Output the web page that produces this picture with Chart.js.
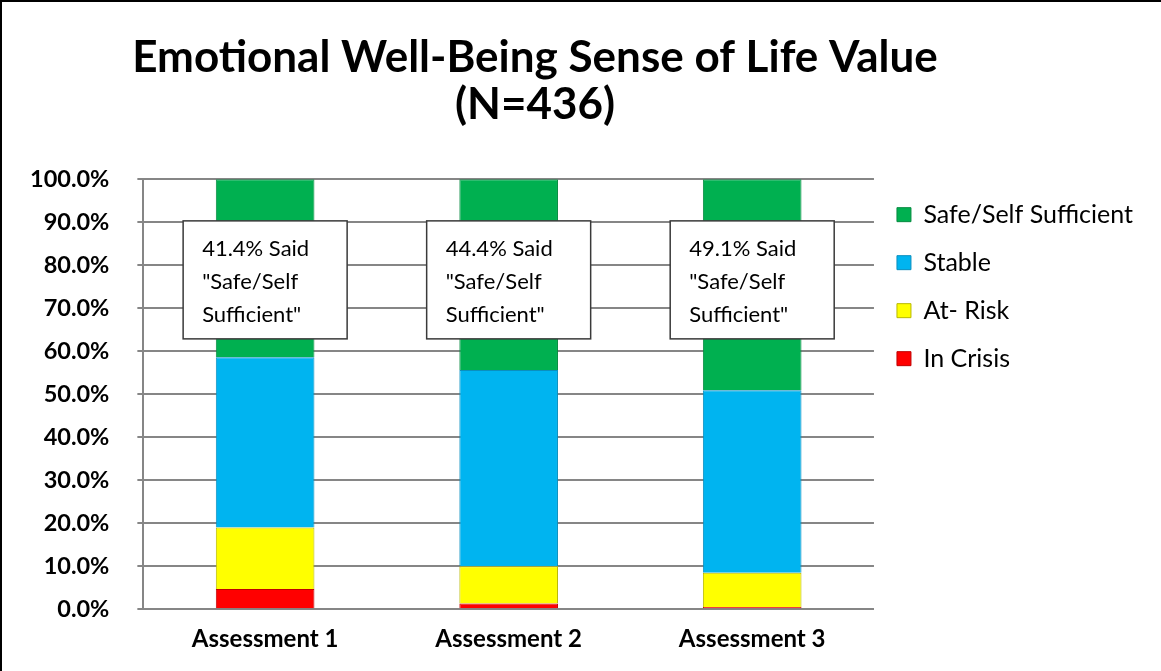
<!DOCTYPE html>
<html>
<head>
<meta charset="utf-8">
<script src="https://cdn.jsdelivr.net/npm/chart.js@4"></script>
<style>
  html, body { margin: 0; padding: 0; background: #fff; }
  #wrap { width: 1161px; height: 671px; box-sizing: border-box; border-left: 2px solid #000; border-top: 2px solid #000; }
  canvas { display: block; }
</style>
</head>
<body>
<div id="wrap"><canvas id="chart1" width="1159" height="669"></canvas></div>
<script>
// data
var categories = ["Assessment 1", "Assessment 2", "Assessment 3"];
var inCrisis = [4.7, 1.3, 0.5];
var atRisk = [14.3, 8.7, 8.0];
var stable = [39.6, 45.6, 42.4];
var safeSelf = [41.4, 44.4, 49.1];
var notes = ['41.4% Said|"Safe/Self|Sufficient"', '44.4% Said|"Safe/Self|Sufficient"', '49.1% Said|"Safe/Self|Sufficient"'];

var FONT = "Lato, 'Open Sans', sans-serif";

// nudge the title so it sits where the original has it
var titleShift = {
    id: 'titleShift',
    afterLayout: function (chart) {
        var t = chart.titleBlock;
        var want = 533;
        var now = (t.left + t.right) / 2;
        t.left += want - now;
        t.right += want - now;
    }
};

// text boxes drawn over each bar
var noteBoxes = {
    id: 'noteBoxes',
    afterDatasetsDraw: function (chart) {
        var ctx = chart.ctx;
        var meta = chart.getDatasetMeta(3);
        var y = chart.scales.y;
        ctx.save();
        ctx.font = '22px ' + FONT;
        ctx.textBaseline = 'middle';
        meta.data.forEach(function (bar, i) {
            var w = 164, h = 118;
            var left = bar.x - w / 2;
            var top = y.getPixelForValue(90.3);
            ctx.fillStyle = '#fff';
            ctx.fillRect(left, top, w, h);
            ctx.strokeStyle = '#3a3a3a';
            ctx.lineWidth = 1.5;
            ctx.strokeRect(left, top, w, h);
            ctx.fillStyle = '#000';
            var lines = notes[i].split('|');
            lines.forEach(function (t, k) {
                ctx.fillText(t, left + 19, top + 28 + k * 33);
            });
        });
        ctx.restore();
    }
};

var ctx = document.getElementById('chart1').getContext('2d');
var chart = new Chart(ctx, {
    type: 'bar',
    data: {
        labels: categories,
        datasets: [
            { label: "In Crisis", data: inCrisis, backgroundColor: '#ff0000', borderColor: '#c00000', borderWidth: 1 },
            { label: "At- Risk", data: atRisk, backgroundColor: '#ffff00', borderColor: '#b8b800', borderWidth: 1 },
            { label: "Stable", data: stable, backgroundColor: '#00b4f0', borderColor: '#0a8fbf', borderWidth: 1 },
            { label: "Safe/Self Sufficient", data: safeSelf, backgroundColor: '#00b050', borderColor: '#068a40', borderWidth: 1 }
        ]
    },
    options: {
        responsive: false,
        animation: false,
        devicePixelRatio: 1,
        layout: { padding: { left: 0, right: 18, bottom: 9 } },
        datasets: { bar: { barPercentage: 0.405, categoryPercentage: 1.0 } },
        plugins: {
            title: {
                display: true,
                text: ["Emotional Well-Being Sense of Life Value", "(N=436)"],
                color: '#000',
                font: { family: FONT, size: 44, weight: 'bold', lineHeight: 1.07 },
                padding: { top: 32, bottom: 51 }
            },
            legend: {
                position: 'right',
                align: 'start',
                fullSize: false,
                reverse: true,
                labels: {
                    color: '#000',
                    font: { family: FONT, size: 25 },
                    boxWidth: 14,
                    boxHeight: 14,
                    padding: 23
                }
            },
            tooltip: { enabled: false }
        },
        scales: {
            x: {
                stacked: true,
                grid: { display: false },
                border: { color: '#868686', width: 2 },
                ticks: { color: '#000', padding: 8, font: { family: FONT, size: 24, weight: 'bold' } }
            },
            y: {
                stacked: true,
                min: 0,
                max: 100,
                ticks: {
                    stepSize: 10,
                    color: '#000',
                    padding: 28,
                    font: { family: FONT, size: 23.5, weight: 'bold' },
                    callback: function (v) { return v.toFixed(1) + '%'; }
                },
                grid: { color: '#868686', lineWidth: 2, tickLength: 6 },
                border: { color: '#868686', width: 2 }
            }
        }
    },
    plugins: [titleShift, noteBoxes]
});
</script>
</body>
</html>
